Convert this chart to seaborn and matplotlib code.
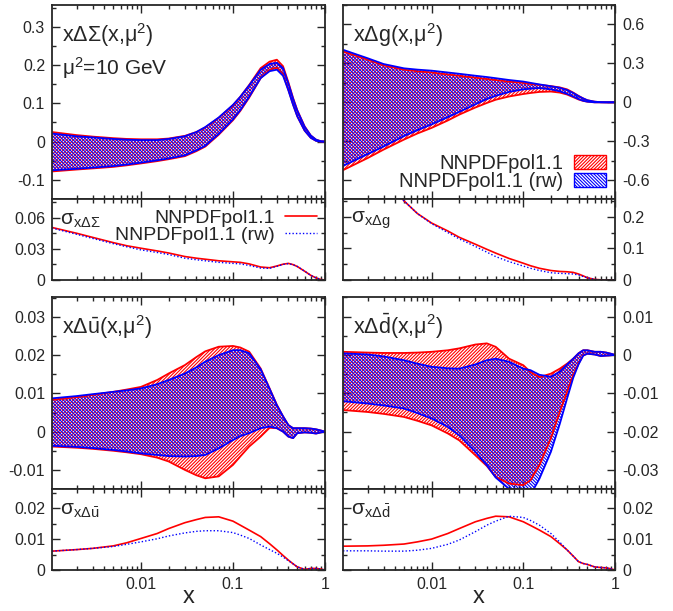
import numpy as np
import matplotlib
matplotlib.use("Agg")
import matplotlib.pyplot as plt
import seaborn as sns
from matplotlib.patches import Patch
from matplotlib.lines import Line2D
from matplotlib.ticker import AutoMinorLocator, LogLocator, FuncFormatter, NullFormatter, MultipleLocator

# common x grid
x = [0.00108, 0.002, 0.003, 0.005, 0.007, 0.01, 0.015, 0.02, 0.03, 0.04, 0.05, 0.07,
     0.1, 0.12, 0.15, 0.2, 0.25, 0.3, 0.35, 0.4, 0.45, 0.5, 0.6, 0.7, 0.8, 0.9, 1.0]

# x DeltaSigma : NNPDFpol1.1 (red) and reweighted (blue) bands
sig_red_hi = [0.025, 0.017, 0.013, 0.009, 0.007, 0.006, 0.006, 0.008, 0.015, 0.025, 0.037, 0.062,
              0.095, 0.117, 0.148, 0.192, 0.209, 0.214, 0.197, 0.155, 0.114, 0.082, 0.040, 0.016, 0.005, 0.001, 0.0]
sig_red_lo = [-0.078, -0.073, -0.070, -0.066, -0.062, -0.057, -0.051, -0.046, -0.038, -0.025, -0.013, 0.018,
              0.056, 0.080, 0.115, 0.166, 0.188, 0.193, 0.176, 0.135, 0.097, 0.066, 0.029, 0.010, 0.002, 0.0, 0.0]
sig_blue_hi = [0.021, 0.014, 0.011, 0.007, 0.005, 0.004, 0.004, 0.007, 0.014, 0.025, 0.038, 0.063,
               0.096, 0.117, 0.147, 0.188, 0.203, 0.206, 0.192, 0.152, 0.112, 0.081, 0.039, 0.016, 0.005, 0.001, 0.0]
sig_blue_lo = [-0.075, -0.071, -0.068, -0.064, -0.060, -0.055, -0.049, -0.044, -0.036, -0.023, -0.011, 0.020,
               0.058, 0.082, 0.117, 0.166, 0.184, 0.188, 0.172, 0.134, 0.096, 0.066, 0.029, 0.010, 0.002, 0.0, 0.0]

# x Delta g
g_red_hi = [0.392, 0.33, 0.285, 0.252, 0.240, 0.230, 0.215, 0.205, 0.190, 0.180, 0.172, 0.160,
            0.150, 0.142, 0.135, 0.125, 0.115, 0.100, 0.075, 0.050, 0.030, 0.016, 0.005, 0.001, 0.0, 0.0, 0.0]
g_red_lo = [-0.523, -0.43, -0.364, -0.287, -0.240, -0.197, -0.140, -0.095, -0.040, -0.005, 0.020, 0.045,
            0.064, 0.072, 0.080, 0.083, 0.075, 0.060, 0.040, 0.022, 0.011, 0.005, 0.0, 0.0, 0.0, 0.0, 0.0]
g_blue_hi = [0.405, 0.34, 0.295, 0.262, 0.252, 0.244, 0.230, 0.220, 0.205, 0.195, 0.186, 0.172,
             0.160, 0.150, 0.138, 0.124, 0.112, 0.095, 0.072, 0.048, 0.030, 0.016, 0.005, 0.001, 0.0, 0.0, 0.0]
g_blue_lo = [-0.49, -0.40, -0.34, -0.26, -0.215, -0.170, -0.115, -0.074, -0.015, 0.025, 0.050, 0.080,
             0.100, 0.105, 0.110, 0.100, 0.085, 0.065, 0.045, 0.025, 0.012, 0.005, 0.0, 0.0, 0.0, 0.0, 0.0]

# x Delta ubar
u_red_hi = [0.0083, 0.0090, 0.0096, 0.0104, 0.0110, 0.0117, 0.0135, 0.0152, 0.0174, 0.0195, 0.0210, 0.0222,
            0.0224, 0.0220, 0.0209, 0.0165, 0.0113, 0.0070, 0.0040, 0.0017, 0.0009, 0.0009, 0.0009, 0.0008, 0.0006, 0.0003, 0.0]
u_red_lo = [-0.0039, -0.0042, -0.0045, -0.0050, -0.0054, -0.0059, -0.0068, -0.0078, -0.0100, -0.0114, -0.0122, -0.0117,
            -0.0087, -0.0065, -0.0039, -0.0013, 0.0010, 0.0009, 0.0, -0.0013, -0.0017, -0.0004, -0.0002, -0.0003, -0.0005, -0.0002, 0.0]
u_blue_hi = [0.0087, 0.0093, 0.0098, 0.0104, 0.0108, 0.0113, 0.0124, 0.0135, 0.0152, 0.0168, 0.0183, 0.0200,
             0.0213, 0.0213, 0.0205, 0.0163, 0.0112, 0.0069, 0.0040, 0.0017, 0.0009, 0.0009, 0.0009, 0.0008, 0.0006, 0.0003, 0.0]
u_blue_lo = [-0.0037, -0.0040, -0.0043, -0.0048, -0.0052, -0.0057, -0.0061, -0.0064, -0.0065, -0.0064, -0.0061, -0.0044,
             -0.0022, -0.0012, -0.0004, 0.0009, 0.0013, 0.0009, 0.0, -0.0013, -0.0017, -0.0004, -0.0002, -0.0003, -0.0005, -0.0002, 0.0]

# x Delta dbar
d_red_hi = [0.0008, 0.0006, 0.0005, 0.0005, 0.0006, 0.0008, 0.0012, 0.0017, 0.0027, 0.0030, 0.0021, -0.0010,
            -0.0027, -0.0045, -0.0058, -0.0049, -0.0036, -0.0023, -0.0010, 0.0004, 0.0012, 0.0012, 0.0008, 0.0008, 0.0006, 0.0003, 0.0]
d_red_lo = [-0.0144, -0.0149, -0.0154, -0.0162, -0.0172, -0.0184, -0.0205, -0.0223, -0.0262, -0.0290, -0.0319, -0.0336,
            -0.0340, -0.0327, -0.0288, -0.0218, -0.0149, -0.0097, -0.0053, -0.0023, -0.0001, 0.0003, 0.0001, -0.0003, -0.0002, -0.0001, 0.0]
d_blue_hi = [0.0004, 0.0001, -0.0004, -0.0014, -0.0023, -0.0031, -0.0035, -0.0036, -0.0025, -0.0014, -0.0010, -0.0018,
             -0.0036, -0.0040, -0.0052, -0.0057, -0.0044, -0.0025, -0.0010, 0.0004, 0.0012, 0.0012, 0.0008, 0.0008, 0.0006, 0.0003, 0.0]
d_blue_lo = [-0.0121, -0.0127, -0.0132, -0.0140, -0.0152, -0.0166, -0.0188, -0.0210, -0.0253, -0.0288, -0.0320, -0.0350,
             -0.0370, -0.0365, -0.0323, -0.0253, -0.0180, -0.0114, -0.0060, -0.0025, -0.0002, 0.0003, 0.0001, -0.0003, -0.0002, -0.0001, 0.0]

# uncertainties (sigma)
s_sig_red = [0.0506, 0.045, 0.041, 0.036, 0.033, 0.0306, 0.028, 0.026, 0.0226, 0.021, 0.020, 0.0185,
             0.0175, 0.017, 0.0155, 0.0125, 0.0118, 0.0135, 0.0152, 0.016, 0.0148, 0.013, 0.0085, 0.0045, 0.002, 0.0005, 0.0]
s_sig_blue = [0.050, 0.044, 0.040, 0.035, 0.032, 0.029, 0.0265, 0.0245, 0.021, 0.0195, 0.0185, 0.017,
              0.016, 0.0155, 0.014, 0.0115, 0.0112, 0.0132, 0.015, 0.0158, 0.0147, 0.013, 0.0085, 0.0045, 0.002, 0.0005, 0.0]
s_g_red = [0.46, 0.38, 0.33, 0.25, 0.21, 0.18, 0.155, 0.135, 0.113, 0.097, 0.085, 0.068,
           0.053, 0.045, 0.037, 0.030, 0.027, 0.026, 0.024, 0.019, 0.013, 0.007, 0.002, 0.0005, 0.0, 0.0, 0.0]
s_g_blue = [0.45, 0.375, 0.325, 0.25, 0.21, 0.178, 0.15, 0.13, 0.106, 0.088, 0.074, 0.058,
            0.044, 0.037, 0.030, 0.023, 0.021, 0.020, 0.019, 0.016, 0.011, 0.007, 0.002, 0.0005, 0.0, 0.0, 0.0]
s_u_red = [0.0061, 0.0066, 0.0070, 0.0078, 0.0088, 0.0102, 0.0118, 0.0134, 0.0153, 0.0163, 0.0170, 0.0172,
           0.0158, 0.0145, 0.0129, 0.0108, 0.0085, 0.0065, 0.0047, 0.0032, 0.0020, 0.0010, 0.0002, 0.0005, 0.0005, 0.0003, 0.0]
s_u_blue = [0.0061, 0.0066, 0.0070, 0.0076, 0.0083, 0.0091, 0.0101, 0.0110, 0.0120, 0.0125, 0.0127, 0.0127,
            0.0121, 0.0113, 0.0102, 0.0081, 0.0066, 0.0054, 0.0042, 0.0030, 0.0020, 0.0010, 0.0002, 0.0005, 0.0005, 0.0003, 0.0]
s_d_red = [0.0077, 0.0078, 0.0080, 0.0084, 0.0091, 0.0100, 0.0118, 0.0134, 0.0156, 0.0167, 0.0174, 0.0172,
           0.0156, 0.0144, 0.0129, 0.0108, 0.0085, 0.0065, 0.0045, 0.0027, 0.0021, 0.0018, 0.0010, 0.0008, 0.0007, 0.0004, 0.0]
s_d_blue = [0.0062, 0.0062, 0.0061, 0.0061, 0.0064, 0.0070, 0.0083, 0.0097, 0.0124, 0.0145, 0.0158, 0.0174,
            0.0170, 0.0160, 0.0145, 0.0118, 0.0090, 0.0065, 0.0045, 0.0027, 0.0021, 0.0018, 0.0010, 0.0008, 0.0007, 0.0004, 0.0]

labels = ["NNPDFpol1.1", "NNPDFpol1.1 (rw)"]
RED, BLUE = "#ff0000", "#0000ff"
HATCH_RED, HATCH_BLUE = "/" * 10, "\\" * 10

sns.set_style("ticks")
plt.rcParams['font.family'] = ['Liberation Sans', 'DejaVu Sans']
plt.rcParams['mathtext.fontset'] = 'custom'
plt.rcParams['mathtext.rm'] = 'Liberation Sans'
plt.rcParams['mathtext.it'] = 'Liberation Sans'
plt.rcParams['mathtext.default'] = 'regular'
plt.rcParams['axes.unicode_minus'] = False
plt.rcParams['hatch.linewidth'] = 0.8

W, H = 673, 611
fig = plt.figure(figsize=(W / 100, H / 100), dpi=100)


def px_axes(x0, x1, y0, y1):
    return fig.add_axes([x0 / W, 1 - y1 / H, (x1 - x0) / W, (y1 - y0) / H])


fmt = FuncFormatter(lambda v, p: "%g" % round(v, 6))


def style(ax, ylim, ystep, right, xlabels):
    ax.set_xscale("log")
    ax.set_xlim(0.00108, 1)
    ax.set_ylim(*ylim)
    ax.xaxis.set_major_locator(LogLocator(base=10))
    ax.xaxis.set_minor_locator(LogLocator(base=10, subs=np.arange(2, 10)))
    ax.xaxis.set_minor_formatter(NullFormatter())
    ax.xaxis.set_major_formatter(fmt)
    ax.yaxis.set_major_locator(MultipleLocator(ystep))
    ax.yaxis.set_major_formatter(fmt)
    ax.yaxis.set_minor_locator(AutoMinorLocator(2))
    ax.tick_params(which="both", direction="in", top=True, bottom=True, left=True, right=True,
                   width=1.0, labelsize=11.5, labelleft=not right, labelright=right,
                   labelbottom=xlabels, pad=5)
    ax.tick_params(which="major", length=6)
    ax.tick_params(which="minor", length=3)
    for s in ax.spines.values():
        s.set_linewidth(1.3)
    ax.set_xlabel("")
    ax.set_ylabel("")


def band(ax, lo, hi, color, hatch):
    ax.fill_between(x, lo, hi, facecolor="none", edgecolor=color, hatch=hatch, linewidth=0)
    sns.lineplot(x=x, y=lo, ax=ax, color=color, lw=1.3)
    sns.lineplot(x=x, y=hi, ax=ax, color=color, lw=1.3)


def sigma(ax, red, blue):
    sns.lineplot(x=x, y=red, ax=ax, color=RED, lw=1.2)
    sns.lineplot(x=x, y=blue, ax=ax, color=BLUE, lw=1.0, linestyle=(0, (1, 1.5)))


cols = [(52, 325, False), (343, 615, True)]
rows = [(5, 199, 280), (297, 489, 570)]

panels = [
    (sig_red_lo, sig_red_hi, sig_blue_lo, sig_blue_hi, s_sig_red, s_sig_blue,
     (-0.15, 0.357), 0.1, (0, 0.078), 0.03, r"x$\Delta\Sigma$(x,$\mu^2$)", r"$\sigma_{x\Delta\Sigma}$"),
    (g_red_lo, g_red_hi, g_blue_lo, g_blue_hi, s_g_red, s_g_blue,
     (-0.745, 0.75), 0.3, (0, 0.256), 0.1, r"x$\Delta$g(x,$\mu^2$)", r"$\sigma_{x\Delta g}$"),
    (u_red_lo, u_red_hi, u_blue_lo, u_blue_hi, s_u_red, s_u_blue,
     (-0.015, 0.0352), 0.01, (0, 0.0262), 0.01, r"x$\Delta\bar{u}$(x,$\mu^2$)", r"$\sigma_{x\Delta\bar{u}}$"),
    (d_red_lo, d_red_hi, d_blue_lo, d_blue_hi, s_d_red, s_d_blue,
     (-0.035, 0.0151), 0.01, (0, 0.0262), 0.01, r"x$\Delta\bar{d}$(x,$\mu^2$)", r"$\sigma_{x\Delta\bar{d}}$"),
]

main_axes, sub_axes = [], []
for i, (rlo, rhi, blo, bhi, sr, sb, ylim, ystep, slim, sstep, title, stitle) in enumerate(panels):
    r, c = divmod(i, 2)
    x0, x1, right = cols[c]
    y0, ym, y1 = rows[r]
    ax = px_axes(x0, x1, y0, ym)
    axs = px_axes(x0, x1, ym, y1)
    ax.set_xscale("log")
    axs.set_xscale("log")
    band(ax, rlo, rhi, RED, HATCH_RED)
    band(ax, blo, bhi, BLUE, HATCH_BLUE)
    sigma(axs, sr, sb)
    style(ax, ylim, ystep, right, False)
    style(axs, slim, sstep, right, r == 1)
    ax.text(0.035, 0.845, title, transform=ax.transAxes, fontsize=15.5, va="center", ha="left")
    axs.text(0.03, 0.74, stitle, transform=axs.transAxes, fontsize=15, va="center", ha="left")
    if r == 1:
        axs.set_xlabel("x", fontsize=17, labelpad=-4)
    main_axes.append(ax)
    sub_axes.append(axs)

main_axes[0].text(0.035, 0.675, r"$\mu^2$=10 GeV", transform=main_axes[0].transAxes,
                  fontsize=15, va="center", ha="left")

# legends
patch_handles = [Patch(facecolor="none", edgecolor=RED, hatch=HATCH_RED, lw=1.0),
                 Patch(facecolor="none", edgecolor=BLUE, hatch=HATCH_BLUE, lw=1.0)]
main_axes[1].legend(patch_handles, labels, loc="lower right", bbox_to_anchor=(0.975, 0.03),
                    frameon=False, markerfirst=False, fontsize=14.5, handlelength=1.6,
                    handleheight=0.65, labelspacing=-0.05, handletextpad=0.55, borderpad=0.1,
                    borderaxespad=0)

line_handles = [Line2D([], [], color=RED, lw=1.2),
                Line2D([], [], color=BLUE, lw=1.0, linestyle=(0, (1, 1.5)))]
sub_axes[0].legend(line_handles, labels, loc="upper right", bbox_to_anchor=(0.978, 0.9),
                   frameon=False, markerfirst=False, fontsize=14, handlelength=1.65,
                   labelspacing=0.0, handletextpad=0.5, borderpad=0.1, borderaxespad=0)

fig.savefig("out.png", dpi=100)
